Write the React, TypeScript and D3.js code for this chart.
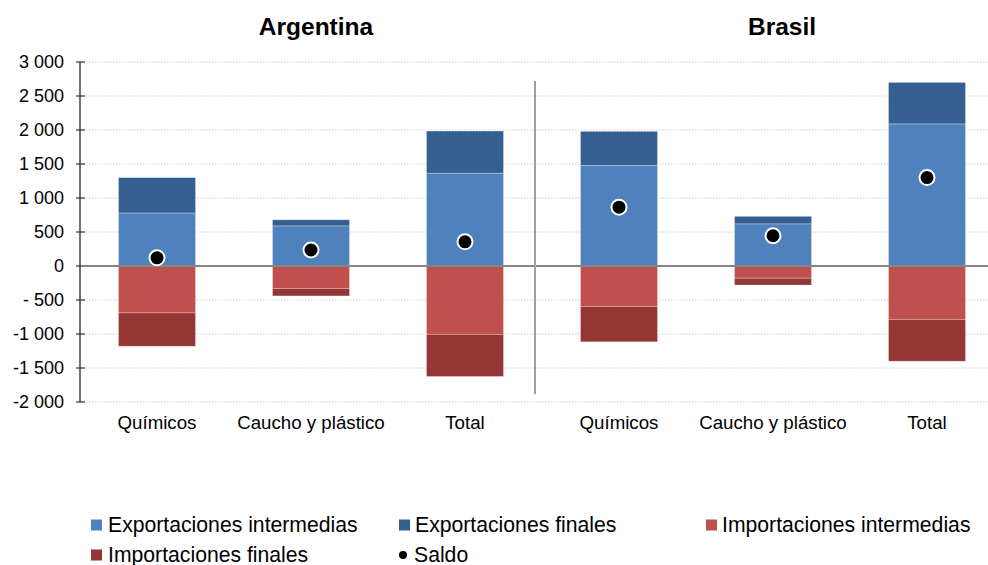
import React from "react";
import * as d3 from "d3";

const categories = ["Químicos", "Caucho y plástico", "Total", "Químicos ", "Caucho y plástico ", "Total "];
const countries = ["Argentina", "Brasil"];
const expIntermedias = [780, 590, 1365, 1480, 620, 2090];
const expFinales = [520, 90, 620, 500, 110, 610];
const impIntermedias = [-690, -330, -1005, -595, -180, -785];
const impFinales = [-490, -110, -620, -520, -100, -615];
const saldo = [120, 235, 355, 865, 445, 1300];
const yTicks = [3000, 2500, 2000, 1500, 1000, 500, 0, -500, -1000, -1500, -2000];
const seriesNames = ["Exportaciones intermedias", "Exportaciones finales", "Importaciones intermedias", "Importaciones finales", "Saldo"];
const colors = ["#4F81BD", "#365F91", "#C0504D", "#943634", "#000000"];

const fmt = (v: number) => {
  const s = Math.abs(v).toString().replace(/\B(?=(\d{3})+(?!\d))/g, " ");
  return v < 0 ? "-" + (Math.abs(v) < 1000 ? " " : "") + s : s;
};

export default function App() {
  const W = 988, H = 565;
  const left = 80, right = 1004;
  const x = d3.scaleBand<string>().domain(categories).range([left, right]).paddingInner(0.5).paddingOuter(0.25);
  const y = d3.scaleLinear().domain([-2000, 3000]).range([402, 62]);
  const bw = x.bandwidth();

  const segs: { cat: string; y0: number; y1: number; color: string }[] = [];
  categories.forEach((c, i) => {
    segs.push({ cat: c, y0: 0, y1: expIntermedias[i], color: colors[0] });
    segs.push({ cat: c, y0: expIntermedias[i], y1: expIntermedias[i] + expFinales[i], color: colors[1] });
    segs.push({ cat: c, y0: 0, y1: impIntermedias[i], color: colors[2] });
    segs.push({ cat: c, y0: impIntermedias[i], y1: impIntermedias[i] + impFinales[i], color: colors[3] });
  });

  const cx = (c: string) => (x(c) as number) + bw / 2;
  const sepX = (cx(categories[2]) + cx(categories[3])) / 2 - 7;
  const titleX = [(cx(categories[0]) + cx(categories[2])) / 2 + 5, (cx(categories[3]) + cx(categories[5])) / 2 + 9];

  const legend = [
    { i: 0, lx: 91, ly: 525, tx: 108 },
    { i: 1, lx: 399, ly: 525, tx: 415 },
    { i: 2, lx: 706, ly: 525, tx: 722 },
    { i: 3, lx: 91, ly: 555, tx: 108 },
    { i: 4, lx: 399, ly: 555, tx: 414 },
  ];

  return (
    <svg width={W} height={H} style={{ position: "absolute", left: 0, top: 0, background: "#fff" }} fontFamily="'Liberation Sans', Arial, sans-serif">
      {yTicks.map((t) => (
        <g key={t}>
          {t !== 0 && (
            <line x1={left} x2={W} y1={y(t)} y2={y(t)} stroke="#D0D0D0" strokeWidth={1} strokeDasharray="1.5 1.5" />
          )}
          <line x1={76} x2={85} y1={y(t)} y2={y(t)} stroke="#404040" strokeWidth={1.3} />
          <text x={64} y={y(t)} dy="0.35em" textAnchor="end" fontSize={18} fill="#000">{fmt(t)}</text>
        </g>
      ))}
      {segs.map((s, k) => (
        <rect key={k} x={x(s.cat)} width={bw} y={y(Math.max(s.y0, s.y1))} height={Math.abs(y(s.y0) - y(s.y1))} fill={s.color} stroke="rgba(255,255,255,0.35)" strokeWidth={0.8} />
      ))}
      <line x1={left} x2={W} y1={y(0)} y2={y(0)} stroke="#868686" strokeWidth={2} />
      <line x1={left} x2={left} y1={y(3000)} y2={y(-2000)} stroke="#404040" strokeWidth={1.5} />
      <line x1={sepX} x2={sepX} y1={81} y2={394} stroke="#A0A0A0" strokeWidth={2} />
      {categories.map((c, i) => (
        <circle key={c} cx={cx(c)} cy={y(saldo[i])} r={7.5} fill="#000" stroke="#fff" strokeWidth={2} />
      ))}
      {categories.map((c) => (
        <text key={c} x={cx(c)} y={429} textAnchor="middle" fontSize={18.7} fill="#000">{c.trim()}</text>
      ))}
      {countries.map((c, i) => (
        <text key={c} x={titleX[i]} y={26} dy="0.35em" textAnchor="middle" fontSize={24.5} fontWeight="bold" fill="#000">{c}</text>
      ))}
      {legend.map((l) => (
        <g key={l.i}>
          {l.i < 4 ? (
            <rect x={l.lx} y={l.ly - 5.5} width={11} height={11} fill={colors[l.i]} />
          ) : (
            <circle cx={l.lx + 4} cy={l.ly} r={4} fill="#000" />
          )}
          <text x={l.tx} y={l.ly + 7} fontSize={21.2} fill="#000">{seriesNames[l.i]}</text>
        </g>
      ))}
    </svg>
  );
}
